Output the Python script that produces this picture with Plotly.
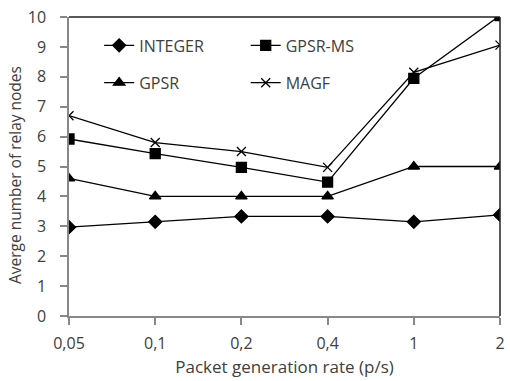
import plotly.graph_objects as go

categories = ["0,05", "0,1", "0,2", "0,4", "1", "2"]
integer_vals = [2.97, 3.15, 3.33, 3.33, 3.15, 3.38]
gpsr_ms_vals = [5.92, 5.43, 4.97, 4.48, 7.95, 10.05]
gpsr_vals = [4.6, 4.0, 4.0, 4.0, 5.0, 5.0]
magf_vals = [6.7, 5.8, 5.5, 4.97, 8.15, 9.06]
y_ticks = list(range(0, 11))

series = [
    ("INTEGER", integer_vals, "diamond", 10, "legend"),
    ("GPSR-MS", gpsr_ms_vals, "square", 10, "legend2"),
    ("GPSR", gpsr_vals, "triangle-up", 10, "legend3"),
    ("MAGF", magf_vals, "x-thin-open", 9, "legend4"),
]

fig = go.Figure()
for name, vals, sym, size, leg in series:
    fig.add_trace(go.Scatter(
        x=categories, y=vals, name=name, mode="lines+markers",
        line=dict(color="black", width=1.3),
        marker=dict(symbol=sym, size=size, color="black",
                    line=dict(color="black", width=1.3)),
        legend=leg, showlegend=True,
    ))

font_family = "Open Sans"
txt = "#404040"
legend_common = dict(font=dict(family=font_family, size=16, color=txt),
                     bgcolor="rgba(0,0,0,0)", xanchor="left", yanchor="middle",
                     itemwidth=30)
fig.update_layout(
    width=510, height=381,
    margin=dict(l=69, r=5, t=17, b=65),
    paper_bgcolor="white", plot_bgcolor="white",
    showlegend=True,
    font=dict(family=font_family, size=16, color=txt),
    xaxis=dict(
        type="category", range=[0, 5], showgrid=False,
        showline=True, linecolor="#888888", linewidth=1.5,
        ticks="outside", ticklen=7, tickcolor="#888888", tickwidth=1.5,
        tickfont=dict(size=16, color=txt), ticklabelstandoff=5,
        title=dict(text="Packet generation rate (p/s)", font=dict(size=17, color=txt), standoff=8),
    ),
    yaxis=dict(
        range=[0, 10], tickvals=y_ticks, showgrid=False,
        showline=True, linecolor="#888888", linewidth=1.5,
        ticks="outside", ticklen=7, tickcolor="#888888", tickwidth=1.5,
        tickfont=dict(size=16, color=txt), ticklabelstandoff=11,
        zeroline=False,
    ),
    annotations=[
        dict(text="Averge number of relay nodes", textangle=-90,
             xref="paper", yref="paper", x=-0.124, y=0.47,
             xanchor="center", yanchor="middle", showarrow=False,
             font=dict(size=15.5, color=txt, family=font_family)),
    ],
    legend=dict(x=0.07, y=0.905, **legend_common),
    legend2=dict(x=0.41, y=0.905, **legend_common),
    legend3=dict(x=0.07, y=0.78, **legend_common),
    legend4=dict(x=0.41, y=0.78, **legend_common),
    shapes=[
        dict(type="line", xref="paper", yref="paper", x0=0, x1=1, y0=1, y1=1,
             line=dict(color="#222222", width=1.5)),
        dict(type="line", xref="paper", yref="paper", x0=1, x1=1, y0=0, y1=1,
             line=dict(color="#222222", width=1.5)),
    ],
)
fig.write_html("out.html")
